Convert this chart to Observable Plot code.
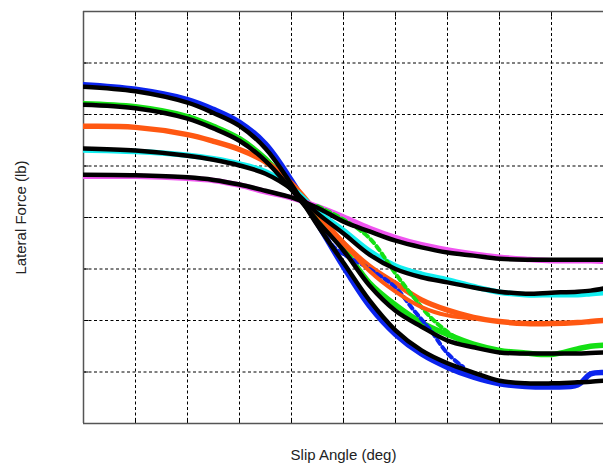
<!DOCTYPE html>
<html>
<head>
<meta charset="utf-8">
<script src="https://cdn.jsdelivr.net/npm/d3@7"></script>
<script src="https://cdn.jsdelivr.net/npm/@observablehq/plot@0.6"></script>
<style>
  html, body { margin: 0; padding: 0; background: #fff; }
  #chart svg { display: block; font-family: "Liberation Sans", Arial, sans-serif; }
</style>
</head>
<body>
<div id="chart"></div>
<script>
// Slip angle samples (deg)
const slip = [-10, -8, -6, -5, -4, -3, -2, -1, 0, 1, 2, 3, 4, 5, 6, 7, 8, 9, 9.5, 10];

// Measured lateral force (lb), one array per load case
const blueData    = [258, 249, 229, 210, 185, 143, 72, -12, -96, -172, -227, -265, -291, -310, -323, -328, -329, -325, -304, -301];
const greenData   = [221, 215, 196, 177, 153, 114, 57, -2, -60, -127, -170, -204, -227, -246, -258, -263, -266, -255, -250, -248];
const orangeData  = [177, 175, 161, 148, 132, 108, 66, 8, -50, -95, -128, -160, -180, -194, -202, -206, -206, -204, -202, -200];
const cyanData    = [131, 128, 121, 114, 104, 89, 58, 12, -25, -65, -94, -110, -121, -134, -145, -150, -150, -150, -148, -146];
const magentaData = [80, 80, 76, 72, 63, 50, 38, 21, 1, -21, -39, -53, -63, -71, -77, -81, -84, -84, -84, -85];

// Model fits (lb)
const blueFit    = [254, 245, 223, 203, 178, 134, 64, -15, -88, -161, -219, -258, -283, -301, -317, -322, -322, -320, -319, -317];
const greenFit   = [219, 212, 192, 173, 149, 110, 54, -7, -64, -132, -181, -212, -239, -252, -262, -264, -264, -264, -263, -262];
const cyanFit    = [134, 130, 120, 112, 101, 85, 55, 8, -31, -72, -100, -116, -126, -136, -144, -148, -146, -144, -142, -138];
const magentaFit = [83, 82, 78, 73, 64, 52, 39, 19, -8, -27, -45, -58, -68, -74, -80, -82, -82, -82, -82, -82];

// Return branches of the measured data
const blueBranchSlip   = [-1, -0.35, 1, 2, 2.7, 3.35, 4, 4.6];
const blueBranch       = [-8, -58, -100, -136, -180, -219, -264, -290];
const greenBranchSlip  = [-1, 0, 1, 2, 2.7, 3.35, 4, 4.6];
const greenBranch      = [22, -4, -40, -109, -155, -194, -222, -242];
const orangeBranchSlip = [0, 1, 2, 3, 4, 5];
const orangeBranch     = [-48, -104, -144, -174, -190, -196];

// Grid ticks
const xTicks = [-8, -6, -4, -2, 0, 2, 4, 6, 8];
const yTicks = [-300, -200, -100, 0, 100, 200, 300];

const toRows = (xs, ys) => xs.map((x, i) => ({x, y: ys[i]}));

const dataSeries = [
  {rows: toRows(slip, blueData), color: "#0b24ee"},
  {rows: toRows(slip, greenData), color: "#14e014"},
  {rows: toRows(slip, orangeData), color: "#ff5812"},
  {rows: toRows(slip, cyanData), color: "#12eef0"},
  {rows: toRows(slip, magentaData), color: "#f055f0"}
];
const branchSeries = [
  {rows: toRows(blueBranchSlip, blueBranch), color: "#0b24ee", dash: "5,4"},
  {rows: toRows(greenBranchSlip, greenBranch), color: "#14e014", dash: "5,4"},
  {rows: toRows(orangeBranchSlip, orangeBranch), color: "#ff5812", dash: "none"}
];
const fitSeries = [blueFit, greenFit, cyanFit, magentaFit].map(f => toRows(slip, f));

const marks = [
  Plot.ruleX(xTicks, {stroke: "#000", strokeWidth: 1, strokeDasharray: "3,2.5"}),
  Plot.ruleY(yTicks, {stroke: "#000", strokeWidth: 1, strokeDasharray: "3,2.5"}),
  // inward ticks
  Plot.ruleX(xTicks, {y1: -400, y2: -390, stroke: "#000", strokeWidth: 1}),
  Plot.ruleX(xTicks, {y1: 400, y2: 390, stroke: "#000", strokeWidth: 1}),
  Plot.ruleY(yTicks, {x1: -10, x2: -9.8, stroke: "#000", strokeWidth: 1}),
  // frame (left, top, bottom)
  Plot.ruleX([-10], {stroke: "#555", strokeWidth: 1.5}),
  Plot.ruleY([-400, 400], {stroke: "#555", strokeWidth: 1.5}),
];
for (const s of dataSeries) {
  marks.push(Plot.line(s.rows, {x: "x", y: "y", stroke: s.color, strokeWidth: 5.5, curve: "catmull-rom", clip: true}));
}
for (const s of branchSeries) {
  marks.push(Plot.line(s.rows, {x: "x", y: "y", stroke: s.color, strokeWidth: 4, strokeDasharray: s.dash, curve: "catmull-rom", clip: true}));
}
for (const rows of fitSeries) {
  marks.push(Plot.line(rows, {x: "x", y: "y", stroke: "#000", strokeWidth: 4.5, curve: "catmull-rom", clip: true}));
}
marks.push(
  Plot.text(["Lateral Force (lb)"], {frameAnchor: "left", dx: -62, rotate: -90, fontSize: 15, fill: "#222", textAnchor: "middle", lineAnchor: "middle"}),
  Plot.text(["Slip Angle (deg)"], {frameAnchor: "bottom", dy: 32, fontSize: 15, fill: "#222", textAnchor: "middle", lineAnchor: "middle"})
);

const chart = Plot.plot({
  width: 603,
  height: 465,
  marginLeft: 83,
  marginRight: 0,
  marginTop: 11,
  marginBottom: 42,
  style: {fontFamily: "'Liberation Sans', Arial, sans-serif", background: "#fff"},
  x: {domain: [-10, 10], axis: null},
  y: {domain: [-400, 400], axis: null},
  marks
});
document.getElementById("chart").appendChild(chart);
</script>
</body>
</html>
